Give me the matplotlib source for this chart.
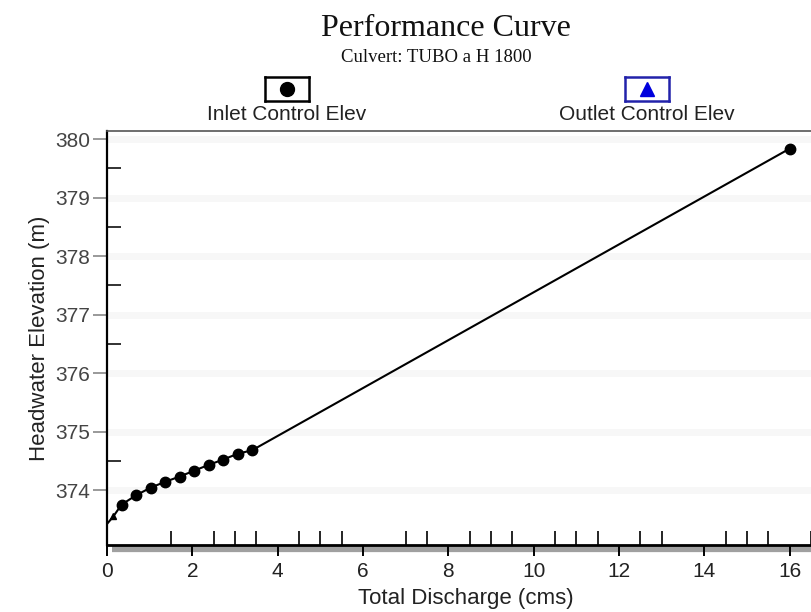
import matplotlib
matplotlib.use("Agg")
import matplotlib.pyplot as plt
from matplotlib.transforms import offset_copy

# Performance curve data: total discharge (cms) vs headwater elevation (m)
discharge = [0.0, 0.15, 0.34, 0.68, 1.02, 1.36, 1.70, 2.04, 2.38, 2.72, 3.06, 3.40, 16.0]
headwater = [373.42, 373.55, 373.75, 373.91, 374.04, 374.14, 374.23, 374.33, 374.43, 374.52, 374.62, 374.68, 379.84]
# points carrying inlet-control markers
inlet_q = [0.34, 0.68, 1.02, 1.36, 1.70, 2.04, 2.38, 2.72, 3.06, 3.40, 16.0]
inlet_hw = [373.75, 373.91, 374.04, 374.14, 374.23, 374.33, 374.43, 374.52, 374.62, 374.68, 379.84]

x_major = [0, 2, 4, 6, 8, 10, 12, 14, 16]
x_minor = [1.5, 2.5, 3, 3.5, 4.5, 5, 5.5, 7, 7.5, 8.5, 9, 9.5, 10.5, 11, 11.5, 12.5, 13, 14.5, 15, 15.5, 16.5]
y_major = [374, 375, 376, 377, 378, 379, 380]
y_minor_dark = [378.5, 379.5]
y_minor_faint = [374.5, 376.5, 377.5]

title = "Performance Curve"
subtitle = "Culvert: TUBO a H 1800"
legend_labels = ["Inlet Control Elev", "Outlet Control Elev"]

W, H = 812, 612
fig = plt.figure(figsize=(W / 100, H / 100), dpi=100)
left, right, top, bottom = 107, 818, 131, 545
ax = fig.add_axes([left / W, 1 - bottom / H, (right - left) / W, (bottom - top) / H])

ax.set_xlim(0, 16.66)
ax.set_ylim(373.06, 380.14)

sans = "Liberation Sans"
serif = "Liberation Serif"

# faint horizontal banding
for yv in y_major:
    ax.axhline(yv, color="#f7f7f7", lw=5, zorder=0)

ax.plot(discharge, headwater, color="black", lw=1.5, zorder=3)
ax.plot(inlet_q, inlet_hw, linestyle="none", marker="o", ms=7.5,
        color="black", zorder=4)
ax.plot([discharge[1]], [headwater[1]], linestyle="none", marker="^", ms=5,
        color="black", zorder=4)

# spines
ax.spines["right"].set_visible(False)
ax.spines["top"].set_color("#555555")
ax.spines["top"].set_linewidth(1.2)
ax.spines["left"].set_linewidth(1.6)
ax.spines["bottom"].set_linewidth(2.0)

# shadow just below the x axis line
shadow = offset_copy(ax.get_xaxis_transform(), fig=fig, y=-4, units="dots")
ax.plot([0.12, 16.66], [0, 0], transform=shadow, color="#a0a0a0", lw=4.5,
        clip_on=False, zorder=1, solid_capstyle="butt")

ax.set_xticks(x_major)
ax.set_xticks(x_minor, minor=True)
ax.set_yticks(y_major)
ax.set_yticks(y_minor_dark + y_minor_faint, minor=True)

ax.tick_params(axis="x", which="major", direction="out", length=8, width=1.4,
               color="black", labelsize=15, labelcolor="#222222", pad=4)
ax.tick_params(axis="x", which="minor", direction="in", length=10, width=1.2,
               color="black")
ax.tick_params(axis="y", which="major", direction="out", length=10, width=1.2,
               color="#888888", labelsize=15, labelcolor="#444444", pad=2)
ax.tick_params(axis="y", which="minor", direction="in", length=10, width=1.3,
               color="#222222")
for lab in ax.get_xticklabels() + ax.get_yticklabels():
    lab.set_fontfamily(sans)
for tick in ax.yaxis.get_minor_ticks():
    if tick.get_loc() in y_minor_faint:
        tick.tick1line.set_color("#dddddd")

ax.set_xlabel("Total Discharge (cms)", fontsize=16, family=sans,
              color="#222222", labelpad=5)
ax.xaxis.label.set_x(0.505)
ax.set_ylabel("Headwater Elevation (m)", fontsize=16, family=sans,
              color="#222222", labelpad=4)

# titles
fig.text(446 / W, 1 - 28 / H, title, ha="center", va="center",
         fontsize=23, family=serif, color="#111111")
fig.text(436 / W, 1 - 57 / H, subtitle, ha="center", va="center",
         fontsize=13.5, family=serif, color="#111111")

# legend entries drawn above the plot
def legend_box(cx, cy, w, h, edge, marker, mcolor, label):
    bx = fig.add_axes([(cx - w / 2) / W, 1 - (cy + h / 2) / H, w / W, h / H])
    bx.set_xlim(0, 1)
    bx.set_ylim(0, 1)
    bx.set_xticks([])
    bx.set_yticks([])
    for sp in bx.spines.values():
        sp.set_color(edge)
        sp.set_linewidth(1.8)
    bx.plot([0.5], [0.5], marker=marker, ms=10, color=mcolor, linestyle="none")
    fig.text(cx / W, 1 - 115 / H, label, ha="center", va="center",
             fontsize=15, family=sans, color="#222222")

legend_box(287, 89, 44, 24, "black", "o", "black", legend_labels[0])
legend_box(647, 89, 44, 24, "#2222aa", "^", "#0000dd", legend_labels[1])

fig.savefig("out.png", dpi=100)
